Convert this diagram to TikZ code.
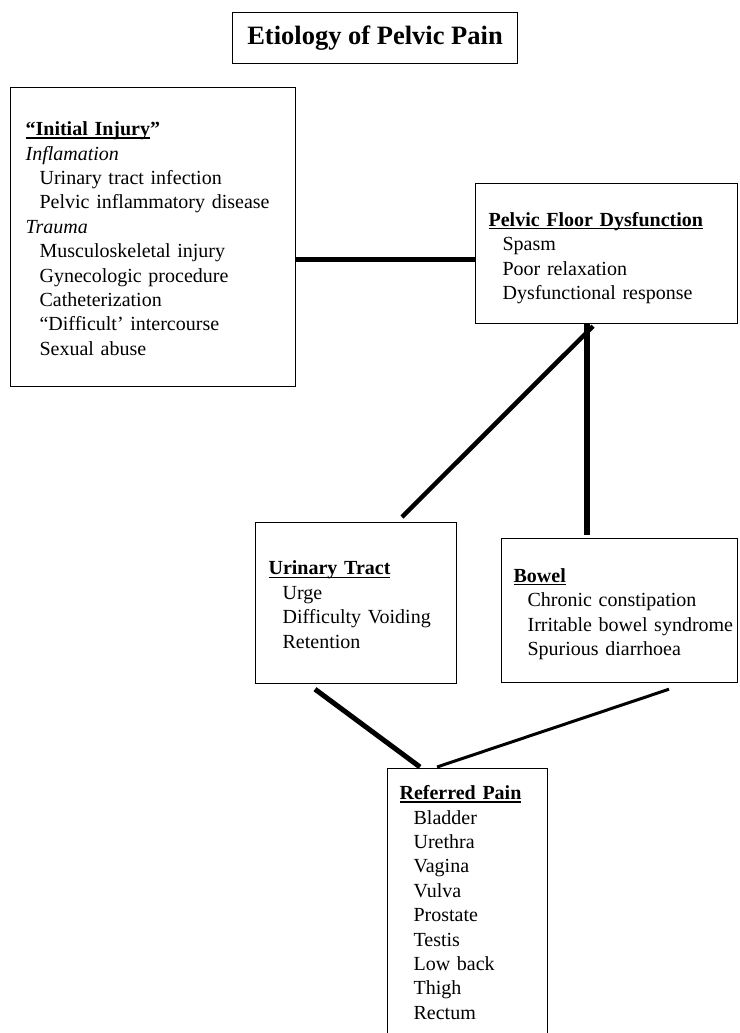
\documentclass[tikz,border=0pt]{standalone}
\usepackage{fontspec}
\setmainfont{Liberation Serif}
\usetikzlibrary{calc}
\newcommand\myul[1]{\setbox0\hbox{\bfseries #1}\rlap{\rule[-2.8pt]{\wd0}{1.1pt}}\box0}
\newcommand\itm{\hspace*{14pt}}
\begin{document}
\begin{tikzpicture}[x=1pt,y=-1pt,
  box/.style={draw, line width=1.2pt, rectangle, anchor=north west, align=left,
    font=\fontsize{20}{24.4}\selectfont, inner ysep=0pt},
  titlebox/.style={draw, line width=1.5pt, rectangle, minimum width=285pt, minimum height=51pt,
    font=\fontsize{26.5}{30}\selectfont\bfseries},
  link/.style={line width=5pt},
  thinlink/.style={line width=3pt}]
\path[use as bounding box] (0,0) rectangle (739,1033);
\clip (0,0) rectangle (739,1033);

\node[titlebox] (title) at (375,38) {Etiology of Pelvic Pain};

\node[box, inner xsep=15pt, text width=255pt, minimum height=299pt] (inj) at (10,87)
 {\rule{0pt}{17pt}\myul{“Initial Injury}\textbf{”}\\
  \textit{Inflamation}\\
  \itm Urinary tract infection\\
  \itm Pelvic inflammatory disease\\
  \textit{Trauma}\\
  \itm Musculoskeletal injury\\
  \itm Gynecologic procedure\\
  \itm Catheterization\\
  \itm “Difficult’ intercourse\\
  \itm Sexual abuse};

\node[box, inner xsep=13pt, text width=236pt, minimum height=140pt] (pfd) at (475,183)
 {\rule{0pt}{23pt}\myul{Pelvic Floor Dysfunction}\\
  \itm Spasm\\
  \itm Poor relaxation\\
  \itm Dysfunctional response};

\node[box, inner xsep=13pt, text width=175pt, minimum height=161pt] (uri) at (255,522)
 {\rule{0pt}{17pt}\myul{Urinary Tract}\\
  \itm Urge\\
  \itm Difficulty Voiding\\
  \itm Retention};

\node[box, inner xsep=12pt, text width=212pt, minimum height=144pt] (bow) at (501,538)
 {\rule{0pt}{21pt}\myul{Bowel}\\
  \itm Chronic constipation\\
  \itm\mbox{Irritable bowel syndrome}\\
  \itm Spurious diarrhoea};

\node[box, inner xsep=12pt, text width=136pt, minimum height=268pt] (ref) at (387,768)
 {\myul{Referred Pain}\\
  \itm Bladder\\
  \itm Urethra\\
  \itm Vagina\\
  \itm Vulva\\
  \itm Prostate\\
  \itm Testis\\
  \itm Low back\\
  \itm Thigh\\
  \itm Rectum};

\draw[link] ($(inj.north east)+(0,172)$) -- ($(pfd.north west)+(0,76)$);
\draw[link, line width=4.5pt] ($(pfd.south west)+(118,2)$) -- ($(uri.north west)+(147,-5)$);
\draw[link, line width=5.5pt] ($(pfd.south west)+(112,0)$) -- ($(bow.north west)+(86,-3)$);
\draw[link] ($(uri.south west)+(60,5)$) -- ($(ref.north west)+(33,-1)$);
\draw[thinlink] ($(bow.south west)+(168,6)$) -- ($(ref.north west)+(50,-1)$);
\end{tikzpicture}
\end{document}
